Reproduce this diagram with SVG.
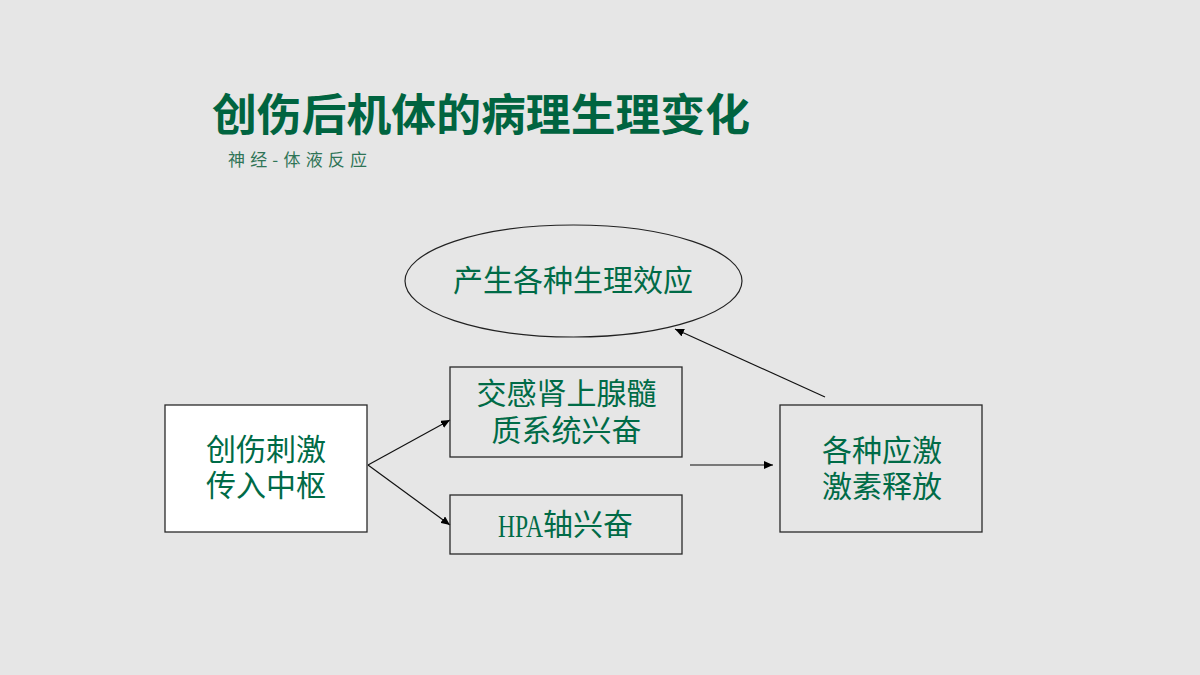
<svg xmlns="http://www.w3.org/2000/svg" width="1200" height="675" viewBox="0 0 1200 675">
<style>
.t{font-family:"Noto Sans CJK SC","Noto Sans",sans-serif;fill:#006b47;font-size:30px;text-anchor:middle}
.box{stroke:#2a2a2a;stroke-width:1.3}
.c{stroke:#111;stroke-width:1.2;fill:none;marker-end:url(#ah)}
</style>
<defs>
<marker id="ah" markerUnits="userSpaceOnUse" markerWidth="10" markerHeight="8" refX="9" refY="4" orient="auto">
<path d="M0,0 L9,4 L0,8 Z" fill="#000"/>
</marker>
</defs>
<rect width="1200" height="675" fill="#e6e6e6"/>
<g id="title">
<text x="212" y="131" font-family="'Noto Sans CJK SC',sans-serif" font-weight="bold" font-size="44" fill="#006440" textLength="538" lengthAdjust="spacingAndGlyphs">创伤后机体的病理生理变化</text>
<text x="228" y="166" font-family="'Noto Sans CJK SC',sans-serif" font-size="17" fill="#2f7456" textLength="139" lengthAdjust="spacing">神经-体液反应</text>
</g>
<g id="connectors">
<line class="c" x1="368" y1="465" x2="450" y2="420"/>
<line class="c" x1="368" y1="465" x2="450" y2="525"/>
<line class="c" x1="690" y1="465" x2="773" y2="465" style="stroke:#555;stroke-width:1.6"/>
<line class="c" x1="825" y1="397" x2="675" y2="329"/>
</g>
<g id="effect">
<ellipse cx="573.5" cy="281" rx="168.5" ry="56" fill="none" stroke="#222" stroke-width="1.2"/>
<text class="t" x="573" y="291">产生各种生理效应</text>
</g>
<g id="stimulus">
<rect class="box" x="165" y="405" width="202" height="127" fill="#ffffff"/>
<text class="t" x="266" y="460">创伤刺激<tspan x="266" dy="36">传入中枢</tspan></text>
</g>
<g id="sympathetic">
<rect class="box" x="450" y="367" width="232" height="90" fill="none"/>
<text class="t" x="566.5" y="404">交感肾上腺髓<tspan x="566.5" dy="37">质系统兴奋</tspan></text>
</g>
<g id="hpa">
<rect class="box" x="450" y="495" width="232" height="59" fill="none"/>
<text class="t" x="498" y="535" style="text-anchor:start"><tspan font-family="'Liberation Serif',serif" font-size="31" y="537" textLength="45" lengthAdjust="spacingAndGlyphs">HPA</tspan><tspan x="543" y="535">轴兴奋</tspan></text>
</g>
<g id="hormones">
<rect class="box" x="780" y="405" width="202" height="127" fill="none"/>
<text class="t" x="882" y="461">各种应激<tspan x="882" dy="36">激素释放</tspan></text>
</g>
</svg>
